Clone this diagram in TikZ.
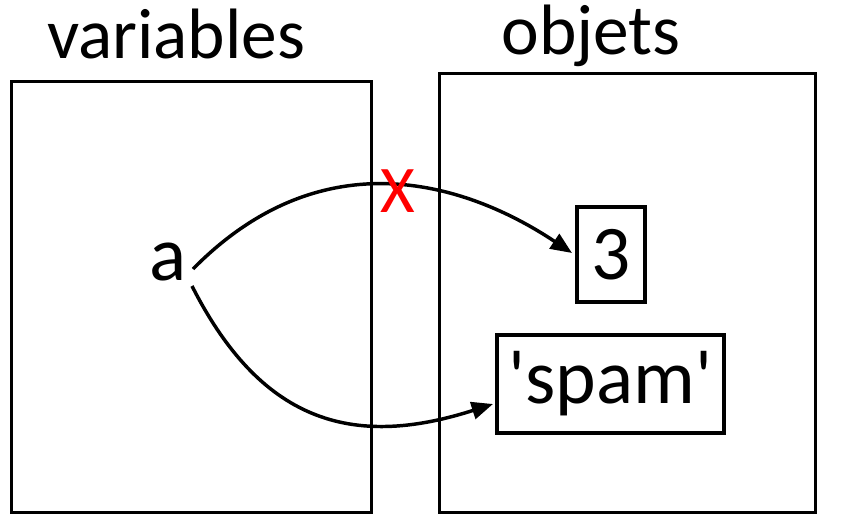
\documentclass[tikz,border=0pt]{standalone}
\usepackage{fontspec}
\setmainfont{Carlito}
\usetikzlibrary{arrows.meta}
\begin{document}
\begin{tikzpicture}[x=0.75pt,y=-0.75pt,
 frame/.style={draw,line width=2.5pt,inner sep=0pt,anchor=north west},
 valbox/.style={draw,line width=2.5pt,inner sep=0pt,font=\fontsize{58}{70}\selectfont},
 head/.style={font=\fontsize{53.5}{64}\selectfont,anchor=base},
 big/.style={font=\fontsize{58}{70}\selectfont,anchor=base,inner sep=0pt},
 link/.style={line width=2.6pt,-{Triangle[length=16pt,width=13pt]}}]
\useasboundingbox (0,0) rectangle (843,521);
\node[frame,minimum width=270pt,minimum height=323.25pt] (vars) at (10,80) {};
\node[frame,minimum width=282pt,minimum height=329.25pt] (objs) at (438,72) {};
\node[head] (tvars) at (176,58) {variables};
\node[head] (tobjs) at (591,55) {objets};
\node[big] (a) at (168,280) {a};
\node[valbox,minimum width=51pt,minimum height=71.25pt] (three) at (611,254.5) {3};
\node[valbox,minimum width=170.25pt,minimum height=73.5pt] (spam) at (610.5,384) {\textquotesingle spam\textquotesingle};
\coordinate (s1) at (193,269);
\coordinate (s2) at (192,286);
\coordinate (e1) at (572,253);
\coordinate (e2) at (493,404);
\draw[link] (s1) .. controls (325,135) and (470,185) .. (e1);
\draw[link] (s2) .. controls (260,420) and (350,450) .. (e2);
\node[text=red,font=\fontsize{50}{60}\selectfont,inner sep=0pt] (cross) at (398,191) {X};
\end{tikzpicture}
\end{document}
